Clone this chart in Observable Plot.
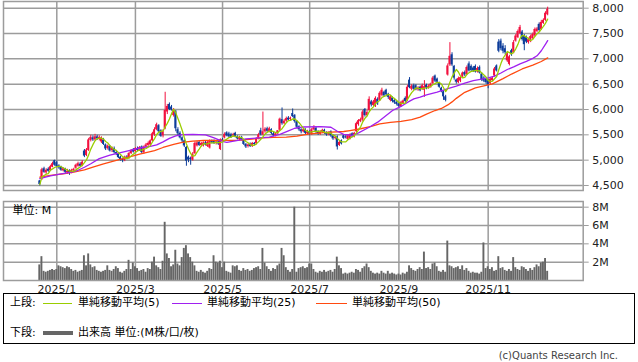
<!DOCTYPE html>
<html><head><meta charset="utf-8">
<script src="https://cdn.jsdelivr.net/npm/d3@7"></script>
<script src="https://cdn.jsdelivr.net/npm/@observablehq/plot@0.6"></script>
<style>
body{margin:0;background:#fff;}
#wrap{position:relative;width:638px;height:362px;overflow:hidden;font-family:"DejaVu Sans","Noto Sans CJK JP",sans-serif;color:#000;background:#fff}
#wrap .abs{position:absolute}
#wrap .t{position:absolute;font-size:11px;line-height:14px;white-space:nowrap}
</style></head><body><div id="wrap"></div>
<script>
// ---- data (index = trading day, 2024/12/19 .. 2025/12/15) ----
const opens=[
4590,4620,4830,4750,4820,4790,4860,4990,4950,4890,
4860,4790,4820,4750,4790,4740,4790,4840,4880,4920,
4890,5180,5090,5190,5390,5440,5400,5460,5420,5360,
5400,5300,5230,5270,5190,5230,5150,5120,5060,5020,
4990,5060,5040,5130,5200,5170,5230,5190,5260,5150,
5260,5290,5300,5380,5500,5600,5680,5580,5480,5620,
5950,6100,6050,5880,5960,5600,5530,5440,5380,5250,
5060,5040,5000,5130,5280,5350,5290,5280,5340,5270,
5240,5380,5380,5330,5360,5210,5400,5440,5540,5520,
5500,5480,5530,5450,5410,5440,5390,5310,5270,5310,
5270,5330,5320,5420,5580,5500,5560,5620,5560,5600,
5520,5480,5520,5590,5800,5720,5770,5830,5800,5920,
5880,5760,5660,5600,5560,5600,5520,5560,5510,5600,
5630,5560,5510,5550,5590,5540,5500,5560,5480,5430,
5460,5290,5380,5480,5460,5410,5420,5520,5460,5560,
5700,5760,5790,6000,5880,5980,6150,6080,6060,6200,
6180,6280,6340,6380,6300,6180,6230,6180,6140,6110,
6060,6120,6220,6180,6580,6400,6470,6470,6390,6440,
6400,6380,6480,6420,6440,6510,6660,6600,6520,6420,
6350,6250,6680,6880,7080,6850,6580,6530,6560,6640,
6730,6690,6900,6850,6820,6850,6740,6830,6700,6620,
6600,6570,6510,6570,6660,6860,7330,7350,7250,7200,
6960,6890,7160,7120,7350,7420,7500,7530,7450,7420,
7320,7340,7400,7450,7540,7680,7580,7700,7760,7870];
const highs=[
4600,4840,4860,4830,4850,4900,4960,5000,4980,4910,
4880,4850,4840,4820,4810,4820,4840,4920,4960,4950,
4990,5210,5230,5430,5490,5480,5510,5490,5480,5460,
5430,5320,5300,5290,5260,5260,5190,5140,5080,5040,
5080,5090,5150,5210,5230,5250,5260,5270,5280,5280,
5330,5360,5400,5550,5640,5730,5700,5600,5600,6340,
6100,6130,6080,6020,5980,5640,5560,5460,5400,5270,
5080,5060,5150,5360,5370,5370,5350,5360,5370,5380,
5400,5400,5400,5380,5380,5420,5430,5540,5560,5550,
5530,5530,5550,5480,5470,5470,5410,5330,5320,5340,
5350,5350,5440,5530,5630,5950,5640,5650,5650,5620,
5550,5540,5580,5830,6030,5800,5850,5860,5850,6010,
5900,5780,5680,5620,5630,5620,5590,5580,5630,5680,
5650,5580,5580,5610,5610,5560,5560,5580,5500,5470,
5480,5380,5400,5500,5490,5500,5520,5540,5550,5750,
5800,5830,5980,6020,5980,6250,6180,6180,6250,6230,
6350,6420,6360,6400,6320,6280,6250,6200,6160,6130,
6160,6190,6250,6480,6630,6490,6500,6490,6450,6460,
6500,6570,6500,6490,6520,6650,6680,6620,6540,6440,
6370,6280,6900,7320,7120,6870,6600,6640,6650,6740,
6760,6860,6940,6880,6850,6880,6840,6860,6720,6650,
6620,6590,6630,6650,6830,6880,7380,7390,7300,7260,
7130,7070,7190,7360,7480,7570,7660,7560,7480,7450,
7410,7470,7510,7610,7620,7710,7760,7790,7930,8020];
const lows=[
4490,4600,4740,4720,4760,4780,4850,4880,4850,4820,
4780,4770,4730,4720,4700,4730,4770,4820,4860,4860,
4870,5050,5070,5170,5360,5370,5380,5390,5380,5330,
5290,5190,5200,5160,5150,5120,5090,5030,4980,4950,
4970,5010,5020,5110,5140,5150,5170,5170,5130,5120,
5230,5270,5290,5360,5470,5580,5540,5450,5440,5600,
5900,5980,5970,5850,5560,5480,5420,5330,5250,4880,
4950,4900,4980,5110,5260,5270,5260,5260,5280,5250,
5220,5320,5310,5300,5290,5190,5350,5420,5460,5440,
5430,5450,5440,5400,5390,5380,5290,5230,5240,5250,
5250,5290,5300,5400,5480,5480,5530,5540,5540,5500,
5460,5460,5500,5570,5690,5700,5740,5770,5780,5840,
5730,5620,5570,5520,5540,5500,5490,5480,5490,5580,
5530,5490,5490,5530,5510,5470,5480,5450,5390,5400,
5200,5270,5300,5410,5420,5390,5400,5440,5440,5540,
5670,5740,5760,5850,5860,5960,6050,6060,6040,6080,
6160,6250,6240,6270,6200,6150,6130,6100,6070,6040,
6040,6100,6130,6160,6410,6370,6380,6370,6360,6350,
6380,6240,6390,6400,6420,6490,6530,6510,6420,6330,
6180,6150,6660,6850,6850,6580,6500,6510,6530,6620,
6650,6670,6740,6740,6730,6720,6720,6700,6550,6530,
6500,6410,6490,6550,6640,6740,7120,7160,7100,7080,
6930,6860,7050,7100,7330,7400,7480,7350,7160,7300,
7290,7320,7380,7430,7520,7530,7560,7680,7740,7850];
const closes=[
4520,4810,4760,4800,4780,4870,4930,4900,4870,4850,
4800,4830,4760,4780,4740,4800,4820,4900,4930,4880,
4960,5080,5200,5400,5450,5400,5460,5420,5450,5440,
5310,5220,5280,5180,5240,5150,5120,5050,5010,4990,
5060,5040,5130,5190,5160,5230,5190,5250,5150,5260,
5300,5330,5380,5520,5600,5700,5560,5470,5560,5980,
6060,6000,5990,5990,5620,5520,5440,5380,5280,4980,
5000,5010,5120,5330,5340,5290,5330,5340,5300,5350,
5380,5340,5330,5360,5320,5400,5370,5510,5480,5460,
5450,5500,5460,5420,5450,5400,5310,5260,5300,5270,
5330,5310,5420,5500,5500,5560,5610,5570,5620,5530,
5480,5520,5580,5810,5720,5770,5820,5790,5830,5860,
5760,5650,5600,5560,5600,5530,5560,5510,5600,5640,
5560,5520,5550,5590,5540,5500,5540,5480,5420,5450,
5260,5350,5320,5430,5440,5480,5500,5460,5530,5720,
5780,5800,5950,5880,5940,6200,6090,6150,6220,6110,
6320,6380,6270,6290,6240,6250,6160,6130,6100,6060,
6140,6170,6160,6440,6430,6460,6400,6390,6420,6370,
6470,6450,6420,6460,6500,6620,6560,6540,6440,6360,
6250,6180,6860,7050,6880,6620,6540,6610,6630,6720,
6680,6830,6760,6770,6760,6740,6810,6720,6580,6560,
6530,6480,6600,6620,6800,6760,7150,7200,7150,7120,
7100,7040,7080,7320,7450,7540,7620,7380,7280,7330,
7380,7440,7480,7580,7590,7560,7720,7760,7900,7980];
// volume, millions of shares
const volumes=[
1.7,2.6,1.0,0.9,1.0,1.1,1.2,1.1,1.2,1.6,
1.5,1.4,1.3,1.5,1.4,1.2,1.0,1.1,0.9,1.0,
1.1,2.7,1.6,2.9,1.7,1.4,1.5,1.1,1.0,0.9,
1.0,1.1,1.6,1.1,1.0,1.2,1.5,1.3,0.9,0.8,
1.0,1.2,2.2,1.2,1.9,1.5,1.3,1.0,1.1,1.2,
0.9,1.3,1.2,2.0,2.55,1.6,1.4,1.2,2.1,6.35,
2.9,2.4,1.5,1.7,3.3,1.8,1.6,2.5,3.5,3.8,
2.9,2.5,2.0,1.6,1.0,0.9,1.1,0.9,0.8,1.0,
1.3,1.2,2.7,2.0,1.9,2.1,1.4,2.0,1.0,0.9,
0.8,1.6,1.5,1.6,1.1,1.0,1.3,1.1,1.2,1.0,
1.1,1.3,1.4,1.5,1.2,3.5,1.9,1.5,1.2,1.0,
1.3,1.2,1.6,1.8,3.5,2.7,1.4,1.1,0.9,1.2,
8.0,0.9,1.3,1.4,1.5,1.3,1.4,1.8,1.8,1.2,
0.9,0.8,1.0,0.9,1.1,0.9,1.0,1.1,0.9,1.2,
2.55,1.6,1.3,0.7,0.8,0.7,0.8,0.9,0.8,1.2,
1.1,0.9,1.3,1.5,1.8,1.4,1.0,0.8,0.7,0.8,
0.7,1.0,0.8,0.7,1.0,0.7,0.8,0.7,0.6,0.7,
0.6,0.8,0.7,0.9,1.6,1.3,1.1,1.0,1.2,1.4,
1.2,3.1,1.3,1.4,1.2,1.8,1.9,1.5,1.0,0.9,
1.1,0.9,4.3,1.6,1.5,1.3,1.4,1.5,1.2,1.6,
1.1,1.3,1.0,0.8,0.9,0.8,0.8,0.7,0.9,4.1,
1.3,1.5,1.2,1.4,1.0,1.1,2.6,1.3,1.4,1.1,
1.0,1.2,1.0,2.5,1.4,1.2,1.1,1.5,1.4,1.2,
1.0,1.3,1.1,1.4,1.7,1.5,1.9,2.0,2.4,1.0];
// 25- and 50-day moving averages (index, value)
const ma25Idx=[0,5,10,15,18,21,24,28,33,38,43,47,52,55,58,61,64,67,72,78,82,86,88,92,97,103,108,113,117,120,124,132,137,140,143,147,150,155,159,163,166,170,173,176,179,182,187,192,196,200,204,208,211,214,217,220,223,226,229,232,234,236,238,239];
const ma25Val=[4635,4690,4730,4765,4800,4860,4930,5030,5100,5150,5200,5240,5270,5300,5360,5430,5480,5505,5510,5500,5440,5370,5350,5380,5420,5440,5455,5510,5580,5630,5655,5660,5650,5570,5510,5490,5540,5650,5750,5880,5980,6060,6140,6210,6245,6290,6345,6410,6460,6520,6570,6600,6625,6660,6720,6790,6840,6900,6950,7010,7060,7160,7290,7360];
const ma50Idx=[0,5,11,16,21,25,30,36,41,47,54,58,63,67,72,77,85,93,100,105,110,116,121,127,135,143,146,151,156,160,165,170,175,179,182,186,189,192,194,196,200,205,210,213,218,222,227,232,236,239];
const ma50Val=[4665,4698,4730,4763,4810,4862,4928,4994,5050,5120,5190,5250,5310,5350,5375,5388,5390,5390,5415,5440,5450,5455,5475,5520,5550,5566,5585,5620,5665,5717,5745,5765,5800,5850,5910,5980,6020,6090,6150,6220,6340,6428,6474,6507,6610,6700,6800,6875,6948,7020];
const monthTickIdx=[8,45,86,127,169,211];
const monthTickLabels=["2025/1","2025/3","2025/5","2025/7","2025/9","2025/11"];
const priceTicks=[4500,5000,5500,6000,6500,7000,7500,8000];
const volTicks=[2,4,6,8];

// ---- derived tables ----
const RED="#f2103e", BLUE="#0c3c9a", GRID="#9c9c9c";
const candles=closes.map((c,i)=>({i,o:opens[i],h:highs[i],l:lows[i],c,v:volumes[i],col:c>=opens[i]?RED:BLUE}));
const ma5=closes.map((c,i)=>{const w=closes.slice(Math.max(0,i-4),i+1);return {i,v:d3.mean(w)};});
const ma25=ma25Idx.map((d,k)=>({i:d,v:ma25Val[k]}));
const ma50=ma50Idx.map((d,k)=>({i:d,v:ma50Val[k]}));
const labelOf=new Map(monthTickIdx.map((d,k)=>[d,monthTickLabels[k]]));
const xDomain=[-17.08,255.72];
const style={fontFamily:"DejaVu Sans, Noto Sans CJK JP, sans-serif",fontSize:"11px",overflow:"visible",background:"transparent"};

const p1=Plot.plot({
  width:638,height:192,marginLeft:3,marginRight:55.3,marginTop:1,marginBottom:2,
  style,
  x:{domain:xDomain,axis:null,label:null},
  y:{domain:[4401,8132],axis:null,label:null},
  color:{type:"identity"},
  marks:[
    Plot.gridY(priceTicks,{stroke:GRID,strokeOpacity:1,strokeWidth:1.5}),
    Plot.gridX(monthTickIdx,{stroke:GRID,strokeOpacity:1,strokeWidth:1.5}),
    Plot.frame({stroke:GRID,strokeWidth:1.5}),
    Plot.axisY(priceTicks,{anchor:"right",label:null,tickSize:5,tickPadding:4,tickFormat:d3.format(","),stroke:GRID,fill:"#222",fontSize:11}),
    Plot.ruleX(candles,{x:"i",y1:"l",y2:"h",stroke:"col",strokeWidth:1}),
    Plot.rect(candles,{x1:d=>d.i-0.47,x2:d=>d.i+0.47,y1:d=>Math.min(d.o,d.c),y2:d=>Math.max(d.o,d.c),fill:"col"}),
    Plot.line(ma50,{x:"i",y:"v",stroke:"#ff4a10",strokeWidth:1.3}),
    Plot.line(ma25,{x:"i",y:"v",stroke:"#a020f0",strokeWidth:1.3}),
    Plot.line(ma5,{x:"i",y:"v",stroke:"#9acd00",strokeWidth:1.3})
  ]
});

const p2=Plot.plot({
  width:638,height:100,marginLeft:3,marginRight:55.3,marginTop:6,marginBottom:15,
  style,
  x:{domain:xDomain,axis:null,label:null},
  y:{domain:[0,8.62],axis:null,label:null},
  marks:[
    Plot.gridY(volTicks,{stroke:GRID,strokeOpacity:1,strokeWidth:1.5}),
    Plot.gridX(monthTickIdx,{stroke:GRID,strokeOpacity:1,strokeWidth:1.5}),
    Plot.rect(candles,{x1:d=>d.i-0.45,x2:d=>d.i+0.45,y1:0,y2:"v",fill:"#666"}),
    Plot.frame({stroke:GRID,strokeWidth:1.5}),
    Plot.axisY(volTicks,{anchor:"right",label:null,tickSize:5,tickPadding:4,tickFormat:d=>d+"M",stroke:GRID,fill:"#222",fontSize:11}),
    Plot.axisX(monthTickIdx,{anchor:"bottom",label:null,tickSize:0,tickPadding:5,tickFormat:d=>labelOf.get(d),fill:"#222",fontSize:11}),
    Plot.text(["単位: M"],{frameAnchor:"top-left",dx:9,dy:5,fill:"#000",fontSize:11})
  ]
});

const wrap=document.getElementById("wrap");
function place(el,left,top){el.style.position="absolute";el.style.left=left+"px";el.style.top=top+"px";wrap.appendChild(el);}
place(p1,0,0);
place(p2,0,195);

// legend
const box=document.createElement("div");
box.style.cssText="position:absolute;left:3px;top:293px;width:632px;height:51px;border:1px solid #000;box-sizing:border-box;";
wrap.appendChild(box);
function txt(s,left,cy,size){const d=document.createElement("div");d.className="t";d.textContent=s;d.style.left=left+"px";d.style.top=(cy-7)+"px";if(size)d.style.fontSize=size+"px";wrap.appendChild(d);return d;}
function bar(left,cy,w,h,col){const d=document.createElement("div");d.className="abs";d.style.cssText=`position:absolute;left:${left}px;top:${cy-h/2}px;width:${w}px;height:${h}px;background:${col}`;wrap.appendChild(d);}
txt("上段:",10,303);
bar(43,303,29,1,"#9acd00"); txt("単純移動平均(5)",78,303);
bar(172,303,30,1,"#a020f0"); txt("単純移動平均(25)",207,303);
bar(316,303,31,1,"#ff4a10"); txt("単純移動平均(50)",352,303);
txt("下段:",10,333);
bar(43,333,30,4,"#666"); txt("出来高 単位:(M株/口/枚)",78,333);
const cp=document.createElement("div");
cp.className="t";cp.textContent="(c)Quants Research Inc.";
cp.style.cssText="position:absolute;right:20px;top:349px;font-size:10px;line-height:14px;color:#444;white-space:nowrap";
wrap.appendChild(cp);
</script></body></html>
